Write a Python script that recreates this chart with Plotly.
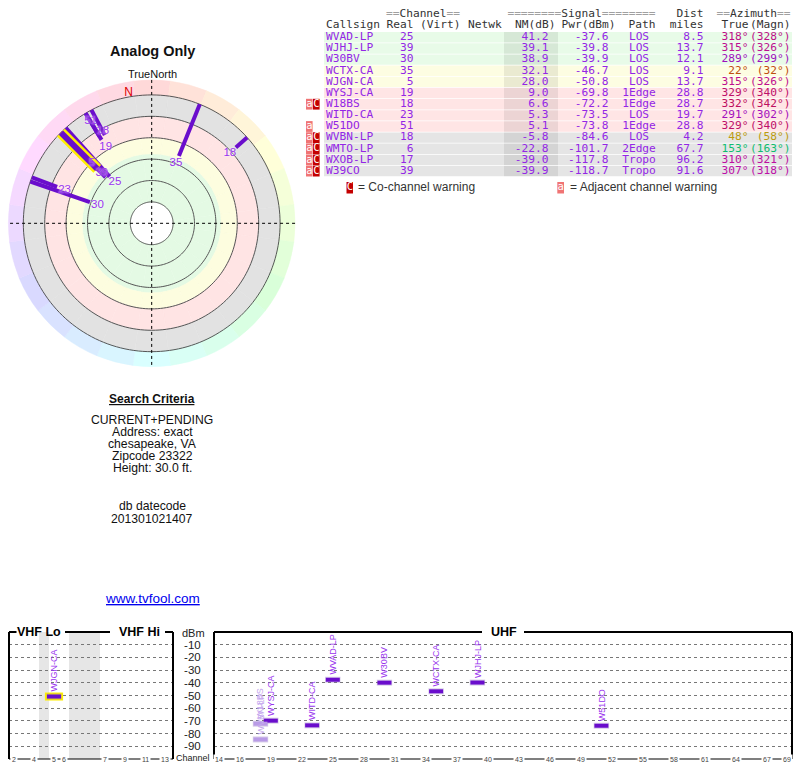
import numpy as np
import plotly.graph_objects as go

# station list
callsigns = ["WVAD-LP", "WJHJ-LP", "W30BV", "WCTX-CA", "WJGN-CA", "WYSJ-CA", "W18BS",
             "WITD-CA", "W51DO", "WVBN-LP", "WMTO-LP", "WXOB-LP", "W39CO"]
real_ch = [25, 39, 30, 35, 5, 19, 18, 23, 51, 18, 6, 17, 39]
nm_db = [41.2, 39.1, 38.9, 32.1, 28.0, 9.0, 6.6, 5.3, 5.1, -5.8, -22.8, -39.0, -39.9]
pwr_dbm = [-37.6, -39.8, -39.9, -46.7, -50.8, -69.8, -72.2, -73.5, -73.8, -84.6, -101.7, -117.8, -118.7]
path = ["LOS", "LOS", "LOS", "LOS", "LOS", "1Edge", "1Edge", "LOS", "1Edge", "LOS", "2Edge", "Tropo", "Tropo"]
dist_mi = [8.5, 13.7, 12.1, 9.1, 13.7, 28.8, 28.7, 19.7, 28.8, 4.2, 67.7, 96.2, 91.6]
az_true = [318, 315, 289, 22, 315, 329, 332, 291, 329, 48, 153, 310, 307]
az_magn = [328, 326, 299, 32, 326, 340, 342, 302, 340, 58, 163, 321, 318]
adj_warn = [0, 0, 0, 0, 0, 0, 1, 0, 1, 1, 1, 1, 1]
co_warn = [0, 0, 0, 0, 0, 0, 1, 0, 0, 1, 1, 1, 1]
highlight = "WJGN-CA"

vhf_ticks = [2, 4, 5, 6, 7, 9, 11, 13]
uhf_ticks = [14, 16, 19, 22, 25, 28, 31, 34, 37, 40, 43, 46, 49, 52, 55, 58, 61, 64, 67, 69]
dbm_ticks = [-10, -20, -30, -40, -50, -60, -70, -80, -90]
search_lines = ["CURRENT+PENDING", "Address: exact", "chesapeake, VA", "Zipcode 23322", "Height: 30.0 ft."]
datecode = "201301021407"

SANS = "Liberation Sans, Arial, sans-serif"
MONO = "DejaVu Sans Mono, monospace"
RAY = "#6a0dcc"
TXT = "#9326e6"
FADED = "#b99be6"
n = len(callsigns)


def zone_fill(nm):
    if nm >= 35:
        return "#e8fbe8"
    if nm >= 20:
        return "#fdfde2"
    if nm >= 0:
        return "#ffe5e5"
    return "#e5e5e5"


def az_color(deg):
    return "hsl(%d,85%%,40%%)" % deg


def vhf_pos(ch):
    # one unit per channel, plus the 72-76 MHz gap and the FM band gap
    if ch <= 4:
        return ch - 1.5
    if ch <= 6:
        return ch - 0.5
    return ch + 2.6


fig = go.Figure()

# ---------------- polar (r = 100 - NM) ----------------
wedges = list(range(0, 360, 15))
bands = [(20, 65, "#e4fae4"), (65, 80, "#fdfddf"), (80, 100, "#ffe4e4"), (100, 120, "#e2e2e2")]
for r0, r1, col in bands:
    fig.add_trace(go.Barpolar(r=[r1 - r0] * len(wedges), base=[r0] * len(wedges), theta=wedges,
                              width=[15] * len(wedges), marker=dict(color=col, line=dict(color=col, width=0.5)),
                              hoverinfo="skip", subplot="polar"))
hue_cols = ["hsl(%d,100%%,92.5%%)" % t for t in wedges]
fig.add_trace(go.Barpolar(r=[14] * len(wedges), base=[120] * len(wedges), theta=wedges,
                          width=[15] * len(wedges), marker=dict(color=hue_cols, line=dict(color=hue_cols, width=0.5)),
                          hoverinfo="skip", subplot="polar"))

ring_theta = np.arange(0, 361, 2)
for rr in [20, 40, 60, 80, 100, 120]:
    fig.add_trace(go.Scatterpolar(r=[rr] * len(ring_theta), theta=ring_theta, mode="lines",
                                  line=dict(color="#555", width=1), hoverinfo="skip", subplot="polar"))
for a in [0, 90]:
    fig.add_trace(go.Scatterpolar(r=[134, 0, 134], theta=[a, a, a + 180], mode="lines",
                                  line=dict(color="black", width=1, dash="dot"), hoverinfo="skip", subplot="polar"))

ray_end = [100 - v for v in nm_db]
on_map = [i for i in range(n) if ray_end[i] < 120]
for i in on_map:
    if callsigns[i] == highlight:
        continue
    fig.add_trace(go.Scatterpolar(r=[ray_end[i], 120], theta=[az_true[i]] * 2, mode="lines",
                                  line=dict(color=RAY, width=4), hoverinfo="skip", subplot="polar"))
hi = callsigns.index(highlight)
fig.add_trace(go.Scatterpolar(r=[ray_end[hi], 120], theta=[az_true[hi]] * 2, mode="lines",
                              line=dict(color="#ffee00", width=11), hoverinfo="skip", subplot="polar"))
fig.add_trace(go.Scatterpolar(r=[ray_end[hi], 120], theta=[az_true[hi]] * 2, mode="lines",
                              line=dict(color=RAY, width=6), hoverinfo="skip", subplot="polar"))

label_nudge = {"W51DO": 16, "W18BS": 4, "WJGN-CA": 7, "WJHJ-LP": 5}
lab_r = [ray_end[i] + label_nudge.get(callsigns[i], -7.5) for i in on_map]
fig.add_trace(go.Scatterpolar(r=lab_r, theta=[az_true[i] for i in on_map], mode="text",
                              text=[str(real_ch[i]) for i in on_map],
                              textfont=dict(color="#9933ee", size=11.5, family=SANS,
                                            shadow="0px 0px 2px white"),
                              hoverinfo="skip", subplot="polar"))
decl = az_magn[0] - az_true[0]
fig.add_trace(go.Scatterpolar(r=[124], theta=[360 - decl], mode="text", text=["N"],
                              textfont=dict(color="#dd0000", size=12, family=SANS),
                              hoverinfo="skip", subplot="polar"))

# ---------------- spectrum panels ----------------
ann = []
shapes = []
shown = [i for i in range(n) if pwr_dbm[i] > -100]
for xa, ya, posf, is_vhf in [("x", "y", vhf_pos, True), ("x2", "y2", lambda c: c, False)]:
    idx = [i for i in shown if (real_ch[i] <= 13) == is_vhf]
    xs = [posf(real_ch[i]) for i in idx]
    ys = [pwr_dbm[i] for i in idx]
    cols = [FADED if co_warn[i] else RAY for i in idx]
    hl = [k for k, i in enumerate(idx) if callsigns[i] == highlight]
    if hl:
        fig.add_trace(go.Scatter(x=[xs[k] for k in hl], y=[ys[k] for k in hl], mode="markers", xaxis=xa, yaxis=ya,
                                 marker=dict(symbol="line-ew", size=13, line=dict(color="#ffee00", width=8)),
                                 hoverinfo="skip"))
    fig.add_trace(go.Scatter(x=xs, y=ys, mode="markers", xaxis=xa, yaxis=ya,
                             marker=dict(symbol="line-ew", size=11, line=dict(color="rgba(140,110,190,0.35)", width=6)),
                             hoverinfo="skip"))
    fig.add_trace(go.Scatter(x=xs, y=ys, mode="markers", xaxis=xa, yaxis=ya,
                             marker=dict(symbol="line-ew", size=10, line=dict(color=cols, width=4)),
                             hoverinfo="skip"))
    for i, x, y in zip(idx, xs, ys):
        ann.append(dict(x=x, y=y, xref=xa, yref=ya, text=callsigns[i], textangle=-90, showarrow=False,
                        xanchor="center", yanchor="bottom", yshift=3,
                        font=dict(family=SANS, size=9, color="#c4a6ee" if co_warn[i] else "#9933ee")))
    ticks = vhf_ticks if is_vhf else uhf_ticks
    for t in ticks:
        ann.append(dict(x=posf(t), y=-100, xref=xa, yref=ya, text=str(t), showarrow=False,
                        bgcolor="white", borderpad=1, font=dict(family=SANS, size=7, color="#444")))
    for x0, x1, y0, y1, w in [(0, 0, 0, 1, 2), (1, 1, 0, 1, 2), (0, 1, 0, 0, 1.2)]:
        shapes.append(dict(type="line", xref=xa + " domain", yref=ya + " domain", x0=x0, x1=x1, y0=y0, y1=y1,
                           line=dict(color="black", width=w)))

for x0, x1 in [(3.0, 4.0), (6.0, 9.1)]:
    shapes.append(dict(type="rect", xref="x", yref="y domain", x0=x0, x1=x1, y0=0, y1=1,
                       fillcolor="#e6e6e6", line=dict(width=0), layer="below"))
# top frame segments around the band titles (page px)
for x0, x1 in [(9, 16.5), (65, 110), (165, 173), (214, 482), (524, 792)]:
    shapes.append(dict(type="line", xref="x3", yref="y3", x0=x0, x1=x1, y0=632, y1=632,
                       line=dict(color="black", width=2)))
for txt, x in [("VHF Lo", 39), ("VHF Hi", 139.5), ("UHF", 504)]:
    ann.append(dict(x=x, y=632, xref="x3", yref="y3", text="<b>%s</b>" % txt, showarrow=False,
                    font=dict(family=SANS, size=12.5, color="black")))
ann.append(dict(x=193, y=632.5, xref="x3", yref="y3", text="dBm", showarrow=False,
                font=dict(family=SANS, size=11, color="#222")))
ann.append(dict(x=193, y=758, xref="x3", yref="y3", text="Channel", showarrow=False,
                font=dict(family=SANS, size=9, color="#222")))

# ---------------- left text ----------------
ann.append(dict(x=152, y=51, xref="x3", yref="y3", text="<b>Analog Only</b>", showarrow=False,
                font=dict(family=SANS, size=14.5, color="#111")))
ann.append(dict(x=152, y=74, xref="x3", yref="y3", text="TrueNorth", showarrow=False,
                font=dict(family=SANS, size=11, color="#111")))
ann.append(dict(x=152, y=398.5, xref="x3", yref="y3", text="<b><u>Search Criteria</u></b>", showarrow=False,
                font=dict(family=SANS, size=12, color="#111")))
for k, line in enumerate(search_lines):
    ann.append(dict(x=152, y=419.5 + 12 * k, xref="x3", yref="y3", text=line, showarrow=False,
                    font=dict(family=SANS, size=12.2, color="#111")))
ann.append(dict(x=152, y=505.5, xref="x3", yref="y3", text="db datecode", showarrow=False,
                font=dict(family=SANS, size=12.2, color="#111")))
ann.append(dict(x=152, y=518.5, xref="x3", yref="y3", text=datecode, showarrow=False,
                font=dict(family=SANS, size=12.2, color="#111")))
ann.append(dict(x=152, y=598, xref="x3", yref="y3", text="<u>www.tvfool.com</u>", showarrow=False,
                font=dict(family=SANS, size=13.5, color="#0000ee")))

# ---------------- table ----------------
row_y = [37.3 + 11.15 * i for i in range(n)]
for i in range(n):
    f = zone_fill(nm_db[i])
    shapes.append(dict(type="rect", xref="x3", yref="y3", x0=324, x1=792, y0=row_y[i] - 5.2, y1=row_y[i] + 5.2,
                       fillcolor=f, line=dict(width=0), layer="below"))
    shapes.append(dict(type="rect", xref="x3", yref="y3", x0=504, x1=558, y0=row_y[i] - 5.2, y1=row_y[i] + 5.2,
                       fillcolor="rgba(0,0,0,0.075)", line=dict(width=0), layer="below"))
    if adj_warn[i]:
        shapes.append(dict(type="rect", xref="x3", yref="y3", x0=306, x1=312.6, y0=row_y[i] - 5.4,
                           y1=row_y[i] + 5.4, fillcolor="#f07474", line=dict(width=0), layer="below"))
    if co_warn[i]:
        shapes.append(dict(type="rect", xref="x3", yref="y3", x0=313, x1=319.6, y0=row_y[i] - 5.4,
                           y1=row_y[i] + 5.4, fillcolor="#c40000", line=dict(width=0), layer="below"))

flag_x, flag_y, flag_t = [], [], []
for i in range(n):
    if adj_warn[i]:
        flag_x.append(309.3); flag_y.append(row_y[i]); flag_t.append("a")
    if co_warn[i]:
        flag_x.append(316.3); flag_y.append(row_y[i]); flag_t.append("C")
fig.add_trace(go.Scatter(x=flag_x, y=flag_y, text=flag_t, mode="text", xaxis="x3", yaxis="y3",
                         textfont=dict(family=MONO, size=10.5, color="white"), hoverinfo="skip"))

columns = [
    (326, "middle right", callsigns, TXT),
    (413.5, "middle left", [str(c) for c in real_ch], TXT),
    (548.5, "middle left", ["%.1f" % v for v in nm_db], TXT),
    (608.5, "middle left", ["%.1f" % v for v in pwr_dbm], TXT),
    (639, "middle center", path, TXT),
    (703.5, "middle left", ["%.1f" % v for v in dist_mi], TXT),
    (748.5, "middle left", ["%d°" % v for v in az_true], [az_color(v) for v in az_true]),
    (790.5, "middle left", ["(%d°)" % v for v in az_magn], [az_color(v) for v in az_true]),
]
for x, pos, vals, col in columns:
    fig.add_trace(go.Scatter(x=[x] * n, y=row_y, text=vals, mode="text", textposition=pos,
                             xaxis="x3", yaxis="y3", textfont=dict(family=MONO, size=11.2, color=col),
                             hoverinfo="skip", cliponaxis=False))

eq = "<span style='color:#a0a0a0'>%s</span>"
head = [
    (423, 14, "middle center", eq % "==" + "Channel" + eq % "=="),
    (581.5, 14, "middle center", eq % "========" + "Signal" + eq % "========"),
    (703.5, 14, "middle left", "Dist"),
    (753.5, 14, "middle center", eq % "==" + "Azimuth" + eq % "=="),
    (326, 25, "middle right", "Callsign"),
    (413.5, 25, "middle left", "Real"),
    (420, 25, "middle right", "(Virt)"),
    (468, 25, "middle right", "Netwk"),
    (555.5, 25, "middle left", "NM(dB)"),
    (615.5, 25, "middle left", "Pwr(dBm)"),
    (642, 25, "middle center", "Path"),
    (703.5, 25, "middle left", "miles"),
    (748.5, 25, "middle left", "True"),
    (790.5, 25, "middle left", "(Magn)"),
]
for x, y, pos, t in head:
    fig.add_trace(go.Scatter(x=[x], y=[y], text=[t], mode="text", textposition=pos, xaxis="x3", yaxis="y3",
                             textfont=dict(family=MONO, size=11.2, color="#333"), hoverinfo="skip",
                             cliponaxis=False))

# warning legend
shapes.append(dict(type="rect", xref="x3", yref="y3", x0=346.5, x1=353, y0=182, y1=193.5,
                   fillcolor="#c40000", line=dict(width=0), layer="below"))
shapes.append(dict(type="rect", xref="x3", yref="y3", x0=557.3, x1=564, y0=182, y1=193.5,
                   fillcolor="#f07474", line=dict(width=0), layer="below"))
fig.add_trace(go.Scatter(x=[349.8, 560.7], y=[187.8, 187.8], text=["C", "a"], mode="text", xaxis="x3", yaxis="y3",
                         textfont=dict(family=MONO, size=10.5, color="white"), hoverinfo="skip"))
fig.add_trace(go.Scatter(x=[358, 570], y=[187.8, 187.8], text=["= Co-channel warning", "= Adjacent channel warning"],
                         mode="text", textposition="middle right", xaxis="x3", yaxis="y3",
                         textfont=dict(family=SANS, size=12, color="#333"), hoverinfo="skip", cliponaxis=False))

grid_y = dict(range=[-100, 0], tickvals=dbm_ticks, showgrid=True, gridcolor="#777", griddash="dot",
              gridwidth=1, zeroline=False, showline=False, fixedrange=True,
              domain=[1 - 759 / 768, 1 - 632 / 768])
fig.update_layout(
    width=800, height=768, margin=dict(l=0, r=0, t=0, b=0),
    paper_bgcolor="white", plot_bgcolor="rgba(0,0,0,0)", showlegend=False,
    font=dict(family=SANS),
    polar=dict(domain=dict(x=[6.2 / 800, 297.2 / 800], y=[1 - 368.8 / 768, 1 - 77.8 / 768]),
               bgcolor="rgba(0,0,0,0)", barmode="overlay", bargap=0,
               radialaxis=dict(range=[0, 136], visible=False),
               angularaxis=dict(direction="clockwise", rotation=90, visible=False)),
    xaxis=dict(domain=[9 / 800, 173 / 800], range=[0, 16.4], showgrid=False, zeroline=False,
               showticklabels=False, fixedrange=True, anchor="y"),
    yaxis=dict(grid_y, showticklabels=False, anchor="x"),
    xaxis2=dict(domain=[214 / 800, 792 / 800], range=[13.5, 69.45], showgrid=False, zeroline=False,
                showticklabels=False, fixedrange=True, anchor="y2"),
    yaxis2=dict(grid_y, anchor="x2", ticks="outside", ticklen=10, tickcolor="rgba(0,0,0,0)",
                ticktext=[str(t) for t in dbm_ticks],
                tickfont=dict(family=SANS, size=11.5, color="#222")),
    xaxis3=dict(domain=[0, 1], range=[0, 800], visible=False, anchor="y3", fixedrange=True),
    yaxis3=dict(domain=[0, 1], range=[768, 0], visible=False, anchor="x3", fixedrange=True),
    annotations=ann, shapes=shapes,
)

# drop the browser's default body margin so the 800x768 figure fills the window
fig.write_html("out.html", config={"displayModeBar": False},
               post_script="document.body.style.margin='0px';")
